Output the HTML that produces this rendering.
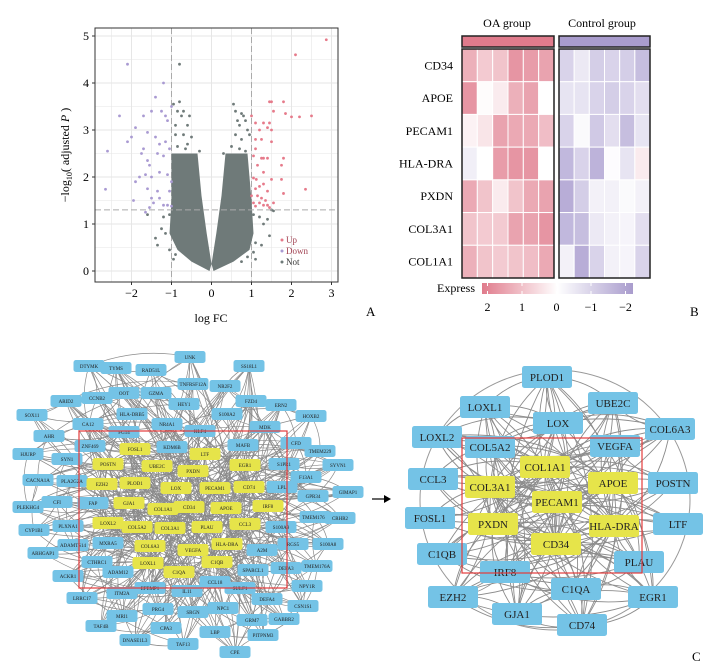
<!DOCTYPE html>
<html><head><meta charset="utf-8"><style>
html,body{margin:0;padding:0;background:#fff;width:716px;height:665px;overflow:hidden}
svg{display:block;font-family:"Liberation Serif",serif}
</style></head><body>
<svg id="fig" width="716" height="665" viewBox="0 0 716 665" xmlns="http://www.w3.org/2000/svg">
<g id="volcano"></g>
<g id="heat"></g>
<g id="netL"></g>
<g id="netR"></g>
<text x="366" y="316" font-size="13">A</text>
<text x="690" y="316" font-size="13">B</text>
<text x="692" y="661" font-size="13">C</text>
<g><line x1="372" y1="499" x2="386" y2="499" stroke="#000" stroke-width="1.2"/><path d="M384 495 L391 499 L384 503 Z" fill="#000"/></g>
</svg>
<script>
const NS='http://www.w3.org/2000/svg';
function mk(p,tag,attrs,txt){const e=document.createElementNS(NS,tag);for(const k in attrs)e.setAttribute(k,attrs[k]);if(txt!==undefined)e.textContent=txt;p.appendChild(e);return e;}

// ---------- Volcano data ----------
const upPoints=[[2.87,4.92],[2.1,4.6],[1.45,3.6],[1.5,3.6],[1.8,3.6],[1.55,3.4],[1.85,3.35],[2.0,3.28],[2.2,3.28],[2.5,3.3],[1.0,3.3],[1.1,3.15],[1.3,3.15],[1.45,3.15],[1.5,3.0],[1.2,3.0],[1.4,3.05],[1.1,2.8],[1.25,2.8],[1.5,2.75],[1.1,2.6],[1.05,2.45],[1.25,2.4],[1.4,2.4],[1.8,2.4],[1.3,2.4],[1.75,2.25],[1.15,2.25],[1.3,2.1],[1.05,1.98],[1.12,1.95],[1.5,1.95],[1.75,1.95],[1.2,1.8],[1.3,1.85],[1.1,1.75],[1.4,1.7],[2.35,1.74],[1.8,1.65],[1.0,1.6],[1.15,1.6],[1.25,1.55],[1.35,1.5],[1.05,1.45],[1.2,1.45],[1.55,1.45],[1.3,1.4],[1.4,1.4],[1.1,1.38],[1.45,1.35]];
const downPoints=[[-2.1,4.4],[-1.2,4.0],[-1.4,3.7],[-2.3,3.3],[-1.5,3.4],[-1.7,3.3],[-1.25,3.4],[-1.15,3.3],[-1.1,3.2],[-1.0,3.5],[-1.9,3.05],[-2.0,2.85],[-2.1,2.75],[-1.6,2.95],[-1.4,2.85],[-1.3,2.7],[-1.15,2.75],[-2.6,2.55],[-1.7,2.6],[-1.75,2.5],[-1.6,2.35],[-1.55,2.25],[-1.35,2.5],[-1.2,2.45],[-1.05,2.6],[-1.65,2.05],[-1.8,2.0],[-1.3,2.1],[-1.1,2.05],[-1.5,2.0],[-1.9,1.9],[-1.6,1.75],[-1.35,1.7],[-1.0,1.9],[-1.05,1.7],[-2.65,1.74],[-1.95,1.5],[-1.5,1.55],[-1.3,1.55],[-1.45,1.45],[-1.2,1.4],[-1.1,1.4],[-1.0,1.38],[-1.55,1.35],[-1.65,1.25]];
const notPoints=[[-0.8,4.4],[-0.95,3.55],[-0.8,3.6],[0.55,3.55],[-0.85,3.4],[-0.7,3.4],[-0.55,3.3],[-0.75,3.3],[0.6,3.4],[0.75,3.35],[0.8,3.3],[0.85,3.2],[0.65,3.2],[0.95,2.9],[-0.9,2.9],[-0.7,2.9],[-0.5,2.85],[0.6,2.9],[0.75,2.8],[-0.9,3.1],[0.9,3.0],[-0.6,3.1],[0.7,3.1],[-1.2,1.15],[-1.25,0.9],[-1.4,0.7],[-1.35,0.55],[-1.15,0.8],[1.2,1.15],[1.3,1.0],[1.5,1.3],[1.55,1.28],[1.45,0.75],[1.1,0.6],[1.25,0.55],[1.05,0.4],[-1.05,0.45],[-0.9,0.35],[0.9,0.3],[-1.6,1.2],[1.4,1.1],[-0.65,2.6],[-0.85,2.65],[0.7,2.6],[0.85,2.55],[-0.6,2.7],[0.5,2.65],[-0.3,2.55],[0.3,2.5],[-1.05,1.2],[1.05,1.2],[-0.95,0.25],[0.75,0.2],[1.1,0.25]];
const leftCloud=[[-0.05,0],[-0.5,0.2],[-0.85,0.45],[-1.05,0.8],[-1.0,1.5],[-1.0,2.5],[-0.35,2.5],[-0.25,1.6],[-0.12,0.8],[0,0.15]];
const rightCloud=[[0.05,0],[0.55,0.2],[0.95,0.45],[1.05,0.8],[1.0,1.5],[0.9,2.5],[0.35,2.5],[0.25,1.6],[0.12,0.8],[0,0.15]];
const xTicks=[-2,-1,0,1,2,3];
const yTicks=[0,1,2,3,4,5];

(function(){
 const g=document.getElementById('volcano');
 const L=95,T=28,R=338,B=282;
 const X=v=>211.5+v*40, Y=v=>271-v*47;
 mk(g,'rect',{x:L,y:T,width:R-L,height:B-T,fill:'#fff'});
 for(let v=-2.5;v<=3;v+=0.5){const e=mk(g,'line',{x1:X(v),x2:X(v),y1:T,y2:B,stroke:'#e6e6e6','stroke-width':Number.isInteger(v)?1:0.6});}
 for(let v=0;v<=5;v+=0.5){const e=mk(g,'line',{x1:L,x2:R,y1:Y(v),y2:Y(v),stroke:'#e6e6e6','stroke-width':Number.isInteger(v)?1:0.6});}
 mk(g,'line',{x1:X(-1),x2:X(-1),y1:T,y2:B,stroke:'#aaa','stroke-dasharray':'6 3'});
 mk(g,'line',{x1:X(1),x2:X(1),y1:T,y2:B,stroke:'#aaa','stroke-dasharray':'6 3'});
 const pts=a=>a.map(p=>X(p[0])+','+Y(p[1])).join(' ');
 let c=mk(g,'polygon',{points:pts(leftCloud),fill:'#6f7a79'});
 c=mk(g,'polygon',{points:pts(rightCloud),fill:'#6f7a79'});
 notPoints.forEach(p=>{const e=mk(g,'circle',{cx:X(p[0]),cy:Y(p[1]),r:1.4,fill:'#6f7a79'});});
 downPoints.forEach(p=>{const e=mk(g,'circle',{cx:X(p[0]),cy:Y(p[1]),r:1.4,fill:'#a99ad2'});});
 upPoints.forEach(p=>{const e=mk(g,'circle',{cx:X(p[0]),cy:Y(p[1]),r:1.4,fill:'#e67a8a'});});
 mk(g,'line',{x1:L,x2:R,y1:Y(1.3),y2:Y(1.3),stroke:'#aaa','stroke-dasharray':'6 3'});
 mk(g,'rect',{x:L,y:T,width:R-L,height:B-T,fill:'none',stroke:'#333','stroke-width':1});
 xTicks.forEach(v=>{mk(g,'line',{x1:X(v),x2:X(v),y1:B,y2:B+3,stroke:'#333'});const e=mk(g,'text',{x:X(v),y:B+15,'font-size':12,'text-anchor':'middle'},v<0?'\u2212'+(-v):String(v));});
 yTicks.forEach(v=>{mk(g,'line',{x1:L-3,x2:L,y1:Y(v),y2:Y(v),stroke:'#333'});const e=mk(g,'text',{x:L-6,y:Y(v)+4,'font-size':12,'text-anchor':'end'},String(v));});
 let t=mk(g,'text',{x:211,y:322,'font-size':12,'text-anchor':'middle'},'log FC');
 t=mk(g,'text',{x:0,y:0,'font-size':12,'text-anchor':'middle',transform:'translate(69,155) rotate(-90)'});
 t.innerHTML='\u2212log<tspan font-size="8" dy="3">10</tspan><tspan dy="-3">( adjusted </tspan><tspan font-style="italic">P</tspan> )';
 [['Up','#e67a8a','#a04050',243],['Down','#a99ad2','#a04050',254],['Not','#6f7a79','#333',265]].forEach(l=>{const gg=mk(g,'g',{});mk(gg,'circle',{cx:282,cy:l[3]-3,r:1.5,fill:l[1]});mk(gg,'text',{x:286,y:l[3],'font-size':9,fill:l[2]},l[0]);});
})();

// ---------- Heatmap data ----------
const genes=['CD34','APOE','PECAM1','HLA-DRA','PXDN','COL3A1','COL1A1'];
const oaValues=[[1.2,0.8,0.9,1.6,1.5,1.4],[1.6,0.05,0.3,1.2,1.4,0],[0.2,0.4,1.4,1.3,1.3,1.0],[-0.3,0,1.5,1.6,1.6,0],[1.3,0.9,0.3,0.9,1.3,1.4],[0.9,0.8,0.8,1.4,1.4,1.6],[1.2,0.9,0.8,0.9,1.0,1.3]];
const controlValues=[[-0.8,-0.4,-0.9,-0.8,-0.9,-1.2],[-0.5,-0.5,-0.8,-0.9,-0.8,-0.6],[-0.8,-0.1,-1.0,-0.6,-1.2,-0.5],[-1.3,-0.8,-1.4,-0.05,-0.5,0.3],[-1.5,-0.9,-0.25,-0.25,-0.1,-0.25],[-1.3,-1.2,-0.4,-0.25,-0.2,-0.6],[-0.25,-1.5,-0.8,-0.25,-0.2,-0.8]];
const colorTicks=[2,1,0,-1,-2];

(function(){
 const g=document.getElementById('heat');
 const top=49,rowH=(278-49)/7;
 const col=v=>{const t=Math.min(1,Math.abs(v)/2);const c=v>=0?[224,123,140]:[160,146,202];const m=(a)=>Math.round(255+(a-255)*t);return `rgb(${m(c[0])},${m(c[1])},${m(c[2])})`;};
 const blocks=[[462,554,oaValues,'oa'],[559,650,controlValues,'control']];
 blocks.forEach(b=>{
  const cw=(b[1]-b[0])/6;
  b[2].forEach((row,r)=>row.forEach((v,c)=>{const e=mk(g,'rect',{x:b[0]+c*cw,y:top+r*rowH,width:cw,height:rowH,fill:col(v),stroke:'#fff','stroke-width':1});}));
  mk(g,'rect',{x:b[0],y:top,width:b[1]-b[0],height:278-top,fill:'none',stroke:'#222','stroke-width':1.5});
 });
 let e=mk(g,'rect',{x:462,y:36,width:92,height:11,fill:'#e07b8c',stroke:'#222','stroke-width':1.5});
 e=mk(g,'rect',{x:559,y:36,width:91,height:11,fill:'#a99ccd',stroke:'#222','stroke-width':1.5});
 e=mk(g,'text',{x:507,y:27,'font-size':12,'text-anchor':'middle'},'OA group');
 e=mk(g,'text',{x:602,y:27,'font-size':12,'text-anchor':'middle'},'Control group');
 genes.forEach((n,r)=>{const t=mk(g,'text',{x:453,y:top+r*rowH+rowH/2+4,'font-size':12,'text-anchor':'end'},n);});
 const defs=mk(g,'defs',{});const lg=mk(defs,'linearGradient',{id:'cb',x1:0,x2:1,y1:0,y2:0});
 mk(lg,'stop',{offset:0,'stop-color':'#e07b8c'});mk(lg,'stop',{offset:0.5,'stop-color':'#fff'});mk(lg,'stop',{offset:1,'stop-color':'#a99ccd'});
 e=mk(g,'rect',{x:482,y:283,width:151,height:11,fill:'url(#cb)'});
 e=mk(g,'text',{x:475,y:292,'font-size':12,'text-anchor':'end'},'Express');
 const cx=v=>556.5-v*34.5;
 colorTicks.forEach(v=>{mk(g,'line',{x1:cx(v),x2:cx(v),y1:283,y2:286,stroke:'#fff'});mk(g,'line',{x1:cx(v),x2:cx(v),y1:291,y2:294,stroke:'#fff'});const t=mk(g,'text',{x:cx(v),y:311,'font-size':12,'text-anchor':'middle'},v<0?'\u2212'+(-v):String(v));});
})();

// ---------- Networks ----------
const leftNodes=[['UNK',190,357,0],['DTYMK',89,366,0],['TYMS',116,368,0],['RAD51L',151,370,0],['TNFRSF12A',193,384,0],['ARID2',66,401,0],['CCNB2',97,398,0],['OOT',124,393,0],['GZMA',156,393,0],['HEY1',184,404,0],['SOX11',32,415,0],['HLA-DRB5',132,414,0],['CA12',88,424,0],['NR4A1',167,424,0],['KLF4',200,431,0],['AHR',49,436,0],['FG14',124,432,0],['ZNF469',90,446,0],['KDM6B',172,447,0],['FOSL1',135,449,1],['HJURP',28,454,0],['SYN1',67,459,0],['POSTN',108,464,1],['UBE2C',157,466,1],['LTF',205,454,1],['PXDN',193,471,1],['CACNA1A',38,480,0],['PLA2G2A',72,481,0],['EZH2',102,484,1],['PLOD1',135,483,1],['LOX',176,488,1],['PLEKHG4',28,507,0],['CFI',57,502,0],['FAP',93,503,0],['GJA1',129,503,1],['COL1A1',163,509,1],['CD34',189,507,1],['CYP1B1',34,530,0],['PLXNA1',68,526,0],['LOXL2',108,523,1],['COL5A2',137,527,1],['COL3A1',170,528,1],['PLAU',207,527,1],['ADAMTS14',73,545,0],['ARHGAP1',43,553,0],['MXRA5',108,543,0],['COL6A3',150,546,1],['VEGFA',193,550,1],['CTHRC1',97,562,0],['LOXL1',148,563,1],['C1QA',179,572,1],['ADAM12',118,572,0],['ACKR1',68,576,0],['EFEMP1',150,588,0],['ITM2A',122,593,0],['IL11',187,591,0],['LRRC17',82,598,0],['PRG4',158,609,0],['SRGN',193,612,0],['MRI1',122,616,0],['TAF4B',101,626,0],['CPA3',166,628,0],['DNASE1L3',135,640,0],['TAF13',183,644,0],['SS18L1',249,366,0],['NR2F2',225,386,0],['FZD4',251,401,0],['ERN2',281,405,0],['HOXB2',311,416,0],['S100A2',227,414,0],['MDK',265,427,0],['MAFB',243,445,0],['CFD',296,443,0],['TMEM229',320,451,0],['EGR1',245,465,1],['S1PR1',284,464,0],['SYVN1',338,465,0],['F13A1',306,477,0],['PECAM1',215,488,1],['CD74',249,487,1],['LPL',282,487,0],['GPR34',313,496,0],['GIMAP1',348,492,0],['APOE',226,508,1],['IRF8',268,506,1],['TMEM176B',315,517,0],['CRHR2',340,518,0],['CCL3',245,524,1],['S100A9',281,527,0],['RGS5',293,544,0],['S100A8',328,544,0],['HLA-DRA',227,544,1],['A2M',262,550,0],['C1QB',217,562,1],['SPARCL1',253,570,0],['DEFA3',286,568,0],['TMEM176A',317,566,0],['CCL18',215,582,0],['SULF1',240,588,0],['NPY1R',307,586,0],['DEFA4',267,599,0],['CSN1S1',303,606,0],['NPC1',223,608,0],['GRM7',252,620,0],['GABBR2',284,619,0],['LBP',215,632,0],['PITPNM3',263,635,0],['CPE',235,652,0]];
const rightNodes=[['PLOD1',547,377,0],['LOXL1',485,407,0],['UBE2C',613,403,0],['LOX',558,423,0],['LOXL2',437,437,0],['COL6A3',670,429,0],['COL5A2',490,447,0],['VEGFA',615,446,0],['COL1A1',545,467,1],['CCL3',433,479,0],['POSTN',673,483,0],['COL3A1',490,487,1],['APOE',613,483,1],['PECAM1',557,502,1],['FOSL1',430,518,0],['LTF',678,524,0],['PXDN',493,524,1],['HLA-DRA',614,526,1],['CD34',556,544,1],['C1QB',442,554,0],['PLAU',639,562,0],['IRF8',505,572,0],['C1QA',576,589,0],['EZH2',453,597,0],['EGR1',653,597,0],['GJA1',517,614,0],['CD74',582,625,0]];

function drawNet(gid,nodes,w,h,fs,steps,curve,sw,col){
 const g=document.getElementById(gid);
 const eg=mk(g,'g',{});
 const n=nodes.length;
 for(let i=0;i<n;i++){
  steps.forEach((s,k)=>{
   const j=(i+s)%n;const a=nodes[i],b=nodes[j];
   if(!(a[3]||b[3])&&k>2)return;
   const cv=(k%2?curve:-curve);
   const mx=(a[1]+b[1])/2+(b[2]-a[2])*cv,my=(a[2]+b[2])/2-(b[1]-a[1])*cv;
   const e=mk(eg,'path',{d:`M${a[1]} ${a[2]} Q${mx} ${my} ${b[1]} ${b[2]}`,fill:'none',stroke:col,'stroke-width':sw});
   
  });
 }
 nodes.forEach(nd=>{
  const gg=mk(g,'g',{});
  mk(gg,'rect',{x:nd[1]-w/2,y:nd[2]-h/2,width:w,height:h,rx:2.5,fill:nd[3]?'#e6e44a':'#74c3e6'});
  mk(gg,'text',{x:nd[1],y:nd[2]+fs*0.35,'font-size':fs,'text-anchor':'middle',fill:'#222'},nd[0]);
 });
}
drawNet('netL',leftNodes,31,12,5,[1,5,11,23,37,48,3,7,17,29],0.15,0.7,'#8a8a8a');
drawNet('netR',rightNodes,50,22,11,[1,2,3,4,5,6,7,8,9,10,11,12,13],0.2,0.9,'#8c8c8c');
(function(){
 const g=document.getElementById('netL');
 let r=mk(g,'rect',{x:79,y:431,width:208,height:157,fill:'none',stroke:'#e43b3b','stroke-width':1.2});
 const g2=document.getElementById('netR');
 const c=mk(g2,'ellipse',{cx:555,cy:500,rx:135,ry:130,fill:'none',stroke:'#999','stroke-width':1});
 g2.insertBefore(c,g2.firstChild);
 r=mk(g2,'rect',{x:462,y:438,width:180,height:135,fill:'none',stroke:'#e43b3b','stroke-width':1.2});
})();
</script>
</body></html>
